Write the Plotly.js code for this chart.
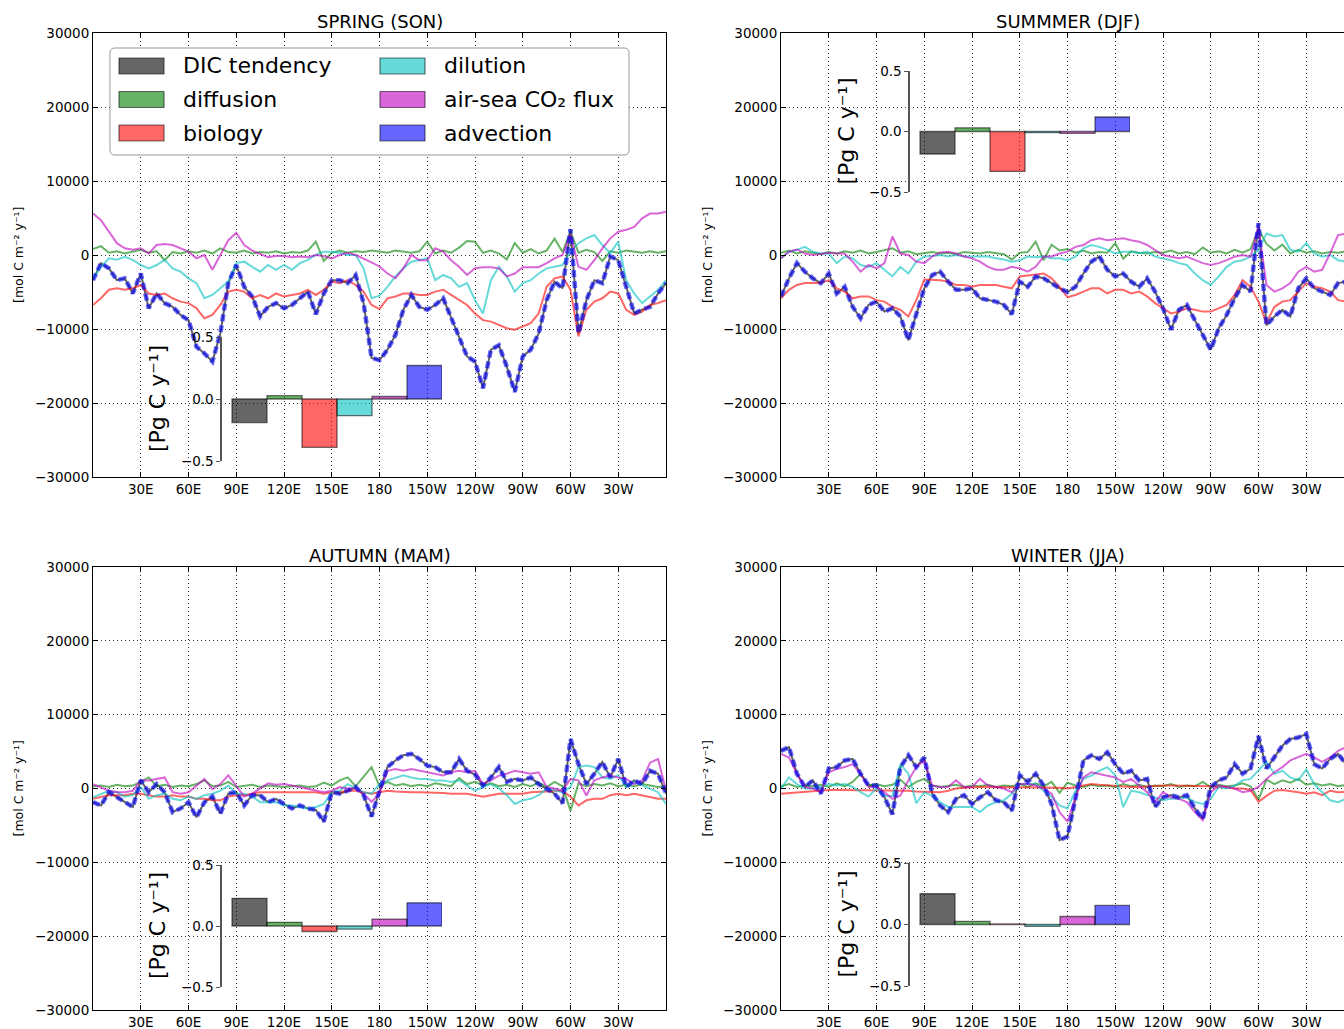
<!DOCTYPE html>
<html>
<head>
<meta charset="utf-8">
<script src="https://cdn.plot.ly/plotly-3.0.1.min.js"></script>
<style>
html,body{margin:0;padding:0;overflow:hidden;background:#fff;}
#chart{width:1360px;height:1029px;}
</style>
</head>
<body>
<div id="chart"></div>
<script>
// ---------------- DATA ----------------
const lon = Array.from({length: 73}, (_, i) => i * 5);   // 0..360 deg, every 5 deg
const lonTicks = [30, 60, 90, 120, 150, 180, 210, 240, 270, 300, 330];
const lonLabels = ['30E', '60E', '90E', '120E', '150E', '180', '150W', '120W', '90W', '60W', '30W'];
const yTicks = [-30000, -20000, -10000, 0, 10000, 20000, 30000];
const yLabels = ['\u221230000', '\u221220000', '\u221210000', '0', '10000', '20000', '30000'];
const barTicks = [-0.5, 0, 0.5];
const barLabels = ['\u22120.5', '0.0', '0.5'];
const seriesNames = ['DIC tendency', 'diffusion', 'biology', 'dilution', 'air-sea CO\u2082 flux', 'advection'];
const titles = ['SPRING (SON)', 'SUMMMER (DJF)', 'AUTUMN (MAM)', 'WINTER (JJA)'];
const mainUnit = '[mol C m\u207B\u00B2 y\u207B\u00B9]';
const insetUnit = '[Pg C y\u207B\u00B9]';

// SPRING (SON)
const dicSON = [-3400,-1100,-1800,-3400,-3150,-5200,-2500,-7200,-5200,-6500,-7000,-8100,-8800,-12400,-13300,-14400,-10600,-3800,-1350,-4300,-5600,-8300,-7000,-6500,-7200,-6750,-5850,-4950,-8000,-5200,-3400,-3400,-3800,-2700,-6500,-13900,-14200,-12800,-10800,-7400,-5400,-7000,-7400,-6750,-5850,-8550,-11000,-13700,-14400,-18000,-12800,-12200,-15100,-18500,-13700,-12800,-10600,-6100,-3600,-4500,3500,-10600,-6100,-3400,-3800,-200,-700,-4300,-7900,-7400,-7000,-5200,-3800];
const difSON = [800,1200,300,500,200,400,700,300,500,-700,400,200,500,300,600,200,900,400,300,600,200,400,300,500,200,400,300,600,1800,-800,300,600,300,500,400,600,500,300,600,400,300,500,1800,200,600,300,1000,1900,1800,300,600,200,-600,1600,300,800,200,600,2200,400,3200,300,700,400,-800,500,300,600,400,300,500,300,500];
const bioSON = [-6750,-5850,-4700,-4500,-4700,-4500,-4050,-5200,-5400,-5200,-5850,-6300,-6500,-7200,-8550,-8100,-6750,-4950,-4700,-4950,-5850,-5400,-5850,-5200,-5600,-5400,-5200,-4700,-5400,-4700,-3600,-3800,-3400,-4050,-4950,-6750,-7300,-5850,-5600,-5200,-5200,-5400,-5400,-4950,-4700,-5400,-6100,-6750,-7900,-8800,-9000,-9450,-9900,-10100,-9700,-9200,-7900,-4300,-3150,-2900,-4700,-11000,-7400,-6300,-5850,-4950,-5200,-7400,-8100,-7650,-6750,-6500,-6100];
const dilSON = [-3150,-1600,-450,-650,-250,-650,-1350,-1800,-1350,-650,-1800,-2250,-3150,-3800,-5850,-5400,-4500,-3600,-1100,-900,-1600,-2250,-1350,-2000,-1350,-2000,-1100,-650,0,450,450,300,0,0,-1800,-5850,-5500,-4300,-2900,-1800,-900,-700,-450,-3400,-2700,-3150,-4300,-3800,-6100,-7900,-3400,-1600,-2900,-4950,-3800,-3400,-2500,-1800,-1600,-1350,450,1600,2250,2700,1350,250,1800,-3400,-5200,-6500,-5600,-4700,-3400];
const asSON = [5600,4700,3150,1600,900,700,900,200,1350,1500,1350,900,450,-450,0,-2000,0,2000,3000,1350,600,150,-300,-150,-150,-300,-200,-300,0,-150,-450,0,300,0,-450,-1000,-1550,-2500,-3150,-1800,0,-700,-700,900,450,-700,-1600,-2700,-1800,-1650,-1650,-1800,-2900,-2500,-1650,-1650,-1650,-1100,-450,0,2900,-1600,-2000,-700,900,2250,3150,3400,3800,4950,5600,5600,5850];
const advSON = [-3400,-1100,-1800,-3400,-3150,-5200,-2500,-7200,-5200,-6500,-7000,-8100,-8800,-12400,-13300,-14400,-10600,-3800,-1350,-4300,-5600,-8300,-7000,-6500,-7200,-6750,-5850,-4950,-8000,-5200,-3400,-3400,-3800,-2700,-6500,-13900,-14200,-12800,-10800,-7400,-5400,-7000,-7400,-6750,-5850,-8550,-11000,-13700,-14400,-18000,-12800,-12200,-15100,-18500,-13700,-12800,-10600,-6100,-3600,-4500,3500,-10600,-6100,-3400,-3800,-200,-700,-4300,-7900,-7400,-7000,-5200,-3800];
const barsSON = [-0.19, 0.027, -0.39, -0.134, 0.02, 0.27];

// SUMMMER (DJF)
const dicDJF = [-5600,-3150,-1100,-2250,-3150,-3800,-2500,-5200,-4300,-7000,-8550,-6750,-6300,-7650,-7200,-8300,-11500,-7900,-4500,-2700,-2250,-3600,-4700,-4700,-4500,-5850,-6100,-6300,-6750,-8000,-3600,-4300,-2900,-3150,-3800,-4500,-5000,-4300,-2500,-900,-200,-2000,-2900,-2500,-3600,-4300,-3150,-4950,-7200,-10100,-7400,-6750,-8800,-10800,-12800,-9900,-8100,-5850,-4050,-4950,4300,-9500,-8300,-7400,-8300,-4500,-3150,-4500,-4950,-5400,-3800,-3600,-3600];
const difDJF = [300,600,200,500,300,100,400,200,500,300,600,200,400,700,900,300,500,100,300,400,200,300,100,400,300,200,400,300,100,-600,300,400,1800,-700,1400,600,800,300,600,200,400,300,1600,-500,500,300,200,400,300,600,200,400,100,1000,300,500,200,700,300,800,3500,1500,600,1400,200,700,300,500,200,400,300,500,400];
const bioDJF = [-5850,-4700,-4050,-3800,-3800,-3800,-3400,-4500,-4950,-5850,-5600,-5600,-6100,-6300,-7000,-7400,-8300,-6100,-3300,-3300,-3400,-3600,-4050,-4050,-4300,-4050,-4050,-4050,-4300,-4500,-2900,-2800,-2700,-2500,-3150,-4300,-5700,-5400,-4950,-4500,-4500,-5200,-4700,-4700,-5200,-4950,-5600,-6500,-7200,-7900,-7650,-7200,-7400,-7650,-7650,-7200,-6750,-5400,-3400,-4300,-6300,-9200,-7000,-6300,-6100,-4950,-3800,-4300,-4500,-4950,-6100,-6300,-6300];
const dilDJF = [-450,450,700,1100,450,200,200,-1100,-200,-450,-1350,-1600,-1100,-2000,-2900,-1600,-2500,-900,-200,-150,0,-200,0,-200,-200,-200,-200,-450,-600,-900,-700,-200,-300,-200,-450,-450,-700,-225,900,1350,1100,700,225,450,450,225,450,-225,-450,-700,-1100,-1350,-2500,-3400,-4050,-2900,-1600,-900,-700,-225,700,2900,2500,2700,700,450,1600,225,-225,0,-700,-900,-900];
const asDJF = [-450,450,750,200,0,200,300,200,200,-900,-2250,-1350,-1800,-1100,2500,200,0,-900,-1100,-200,350,450,200,-200,-450,-900,-1600,-2000,-2000,-1600,-1800,-2250,-1600,-200,-200,200,450,1100,1350,2000,2250,2000,2100,2250,2000,1800,1350,700,0,-225,-450,-225,-700,-1100,-1350,-1100,-700,-225,0,-225,3800,-4050,-4950,-4500,-3800,-2250,-1600,-2250,-2000,225,2700,2900,2900];
const advDJF = [-5600,-3150,-1100,-2250,-3150,-3800,-2500,-5200,-4300,-7000,-8550,-6750,-6300,-7650,-7200,-8300,-11500,-7900,-4500,-2700,-2250,-3600,-4700,-4700,-4500,-5850,-6100,-6300,-6750,-8000,-3600,-4300,-2900,-3150,-3800,-4500,-5000,-4300,-2500,-900,-200,-2000,-2900,-2500,-3600,-4300,-3150,-4950,-7200,-10100,-7400,-6750,-8800,-10800,-12800,-9900,-8100,-5850,-4050,-4950,4300,-9500,-8300,-7400,-8300,-4500,-3150,-4500,-4950,-5400,-3800,-3600,-3600];
const barsDJF = [-0.186, 0.03, -0.33, -0.01, -0.015, 0.12];

// AUTUMN (MAM)
const dicMAM = [-1850,-2300,-500,-1200,-1850,-2500,1100,-500,600,-500,-3200,-2700,-1850,-3900,-1850,-1100,-3400,-700,-500,-2300,-900,-900,-1850,-1400,-2100,-2700,-2300,-2700,-2900,-4500,-500,-700,-300,200,-900,-3800,-300,2900,3800,4500,4700,4000,3100,2900,2200,2200,4000,2400,1900,400,1500,2900,900,1300,1100,1500,600,0,-700,-2000,6700,3300,600,2000,3600,1500,4000,200,1100,600,2400,2000,-700];
const difMAM = [300,400,200,500,300,400,900,1500,300,500,200,400,300,600,1100,300,400,900,200,300,500,200,400,300,200,300,400,200,300,800,400,1100,1500,300,1600,2900,300,900,400,600,300,500,300,700,500,300,1400,600,900,400,700,300,500,200,600,300,800,200,900,300,-3000,700,300,600,400,700,300,500,300,600,400,200,300];
const bioMAM = [-1400,-1100,-900,-900,-900,-700,-700,-900,-1100,-1100,-900,-1100,-1100,-1400,-1400,-1600,-1600,-1100,-900,-900,-700,-500,-500,-500,-500,-500,-500,-500,-500,-700,-500,-500,-300,-300,-500,-700,-500,-300,-400,-500,-500,-500,-500,-500,-600,-700,-700,-700,-900,-1100,-900,-700,-700,-700,-700,-500,-500,-400,-300,-300,-1100,-2300,-1600,-1400,-1400,-900,-700,-900,-700,-900,-1100,-1400,-1400];
const dilMAM = [-1200,-700,-300,-500,-1100,-900,200,-1400,-900,-700,-1400,-1600,-1100,-1400,-900,-700,-300,400,-700,-700,-1100,-1850,-1850,-1850,-2300,-2300,-2500,-2700,-2500,-2100,-500,-300,600,0,-500,-700,600,1100,1500,1800,1500,1300,1300,1100,1100,900,1100,400,-300,200,600,0,-900,-2100,-1600,-1400,-900,0,-300,-500,200,2900,3100,2900,1500,1300,1800,200,900,400,0,-500,-2100];
const asMAM = [600,200,-300,-500,-500,-300,1100,1100,1300,1500,-500,-700,-500,400,1300,-100,600,1800,400,-1100,-700,0,700,500,600,400,200,0,-300,-500,-300,200,0,0,-700,-1800,-700,2400,2650,2400,2650,2400,2200,2000,1750,2200,2400,2200,2400,600,1100,1750,2000,2400,2200,2000,2200,200,0,-300,1300,1100,-950,1100,1500,1750,1500,1300,600,1100,3500,4000,-300];
const advMAM = [-1850,-2300,-500,-1200,-1850,-2500,1100,-500,600,-500,-3200,-2700,-1850,-3900,-1850,-1100,-3400,-700,-500,-2300,-900,-900,-1850,-1400,-2100,-2700,-2300,-2700,-2900,-4500,-500,-700,-300,200,-900,-3800,-300,2900,3800,4500,4700,4000,3100,2900,2200,2200,4000,2400,1900,400,1500,2900,900,1300,1100,1500,600,0,-700,-2000,6700,3300,600,2000,3600,1500,4000,200,1100,600,2400,2000,-700];
const barsMAM = [0.227, 0.03, -0.045, -0.025, 0.057, 0.19];

// WINTER (JJA)
const dicJJA = [5100,5600,2000,200,1100,-700,2700,2900,3800,4000,2000,400,400,-1200,-3500,2900,4500,2900,4200,-700,-2300,-3200,-1400,-900,-2100,-1200,-500,-1600,-1850,-3000,1800,900,2000,400,-2100,-7000,-6500,-1200,3800,4500,4000,4900,3300,2000,2400,1100,1300,-2500,-1200,-900,-1200,-900,-2700,-4100,200,1100,1500,3300,2000,2700,7100,2700,4200,5800,6700,6900,7400,3300,2700,4000,4700,3300,3000];
const difJJA = [300,600,200,400,300,500,200,700,300,900,2000,400,600,300,500,1200,200,900,1300,400,200,300,500,200,400,300,500,200,400,300,600,200,700,300,900,-600,800,400,200,500,300,400,200,600,300,500,200,400,300,600,200,400,300,900,200,500,300,400,700,300,-1500,1200,600,1100,800,1300,500,700,400,600,300,500,400];
const bioJJA = [-700,-600,-500,-400,-300,-300,-200,-200,-200,-200,-200,-200,-200,-200,-200,-300,-300,-400,-400,-500,-500,-300,0,100,200,200,200,200,200,200,200,200,200,200,200,100,0,200,400,600,500,400,400,300,200,200,300,400,400,400,400,400,400,400,300,200,200,0,0,-200,-1800,-1000,-300,-200,-300,-500,-700,-500,-900,-300,-500,-500,-400];
const dilJJA = [0,1500,600,0,0,200,600,400,600,200,-500,-1100,0,-1000,-1000,3300,2000,-2000,-500,-1000,-1850,-2500,-2500,-2500,-2500,-3200,-2300,-1850,-1600,-700,600,600,600,-300,-1100,-2300,-2700,-300,1300,1750,2400,2900,1800,-2500,-300,-500,-900,-1200,-1600,-1400,-1400,-1200,-1850,-2100,-1400,200,0,400,1100,1300,2400,3600,2000,2400,1500,1100,2600,600,-500,-1600,-1850,-1400,-1400];
const asJJA = [4700,4200,2000,200,0,-500,2200,2650,2900,3300,2000,200,200,-500,-1400,-950,1100,2900,3800,400,200,200,1100,200,200,1300,400,200,0,-500,600,600,400,0,-700,-3200,-4500,-1200,1500,2200,2000,1750,1500,850,1300,400,-500,-1850,-500,-1200,-1400,-1850,-3200,-4300,-500,400,200,0,-500,-300,200,1300,2200,2900,3800,4200,4700,4200,3600,4200,5100,5600,5600];
const advJJA = [5100,5600,2000,200,1100,-700,2700,2900,3800,4000,2000,400,400,-1200,-3500,2900,4500,2900,4200,-700,-2300,-3200,-1400,-900,-2100,-1200,-500,-1600,-1850,-3000,1800,900,2000,400,-2100,-7000,-6500,-1200,3800,4500,4000,4900,3300,2000,2400,1100,1300,-2500,-1200,-900,-1200,-900,-2700,-4100,200,1100,1500,3300,2000,2700,7100,2700,4200,5800,6700,6900,7400,3300,2700,4000,4700,3300,3000];
const barsJJA = [0.25, 0.025, 0.005, -0.015, 0.065, 0.155];

// ---------------- STYLE / LAYOUT ----------------
const W = 1360, H = 1029;
const fx = v => v / W;
const fy = v => 1 - v / H;
const FONT = 'DejaVu Sans, Verdana, sans-serif';

const lineColors = ['rgba(0,0,0,0.62)', 'rgba(0,128,0,0.6)', 'rgba(255,0,0,0.6)', 'rgba(0,191,191,0.6)', 'rgba(191,0,191,0.6)', 'rgba(0,0,255,0.6)'];
const barColors = ['rgba(0,0,0,0.6)', 'rgba(0,128,0,0.6)', 'rgba(255,0,0,0.6)', 'rgba(0,191,191,0.6)', 'rgba(191,0,191,0.6)', 'rgba(0,0,255,0.6)'];

const seasonData = [
  {series: [dicSON, difSON, bioSON, dilSON, asSON, advSON], bars: barsSON},
  {series: [dicDJF, difDJF, bioDJF, dilDJF, asDJF, advDJF], bars: barsDJF},
  {series: [dicMAM, difMAM, bioMAM, dilMAM, asMAM, advMAM], bars: barsMAM},
  {series: [dicJJA, difJJA, bioJJA, dilJJA, asJJA, advJJA], bars: barsJJA}
];
seasonData.forEach((s, k) => s.series.forEach((a, j) => {
  if (a.length !== lon.length) throw new Error('length mismatch season ' + k + ' series ' + j + ': ' + a.length);
}));

const panels = [
  {x0: 93, x1: 666, y0: 33, y1: 477},
  {x0: 781, x1: 1354, y0: 33, y1: 477},
  {x0: 93, x1: 666, y0: 567, y1: 1010},
  {x0: 781, x1: 1354, y0: 567, y1: 1010}
];
const insets = [
  {x0: 222, x1: 442, y0: 337, y1: 461},
  {x0: 910, x1: 1130, y0: 71, y1: 192},
  {x0: 222, x1: 442, y0: 865, y1: 987},
  {x0: 910, x1: 1130, y0: 863, y1: 986}
];
const mainYLabelX = [18, 707, 18, 707];
const insetLabelX = [157, 846, 157, 846];

const traces = [];
const layout = {
  width: W, height: H,
  margin: {l: 0, r: 0, t: 0, b: 0},
  paper_bgcolor: '#ffffff',
  plot_bgcolor: 'rgba(0,0,0,0)',
  showlegend: false,
  font: {family: FONT, color: '#000', size: 13.5},
  shapes: [],
  annotations: []
};

panels.forEach((p, k) => {
  const xa = 'x' + (k + 1), ya = 'y' + (k + 1);
  const xi = 'x' + (k + 5), yi = 'y' + (k + 5);
  const axKey = n => (n === 1 ? '' : n);
  const gridStyle = {showgrid: true, gridcolor: 'rgba(0,0,0,0.9)', gridwidth: 0.9, griddash: '1px,3px'};
  layout['xaxis' + axKey(k + 1)] = Object.assign({
    domain: [fx(p.x0), fx(p.x1)], anchor: ya, range: [0, 360],
    tickmode: 'array', tickvals: lonTicks, ticktext: lonLabels,
    ticks: 'inside', ticklen: 5, tickcolor: '#000', tickwidth: 1,
    showline: true, linecolor: '#000', linewidth: 1, mirror: 'ticks',
    zeroline: false, tickfont: {family: FONT, size: 13.5, color: '#000'}, fixedrange: true
  }, gridStyle);
  layout['yaxis' + axKey(k + 1)] = Object.assign({
    domain: [fy(p.y1), fy(p.y0)], anchor: xa, range: [-30000, 30000],
    tickmode: 'array', tickvals: yTicks, ticktext: yLabels,
    ticks: 'inside', ticklen: 5, tickcolor: '#000', tickwidth: 1,
    showline: true, linecolor: '#000', linewidth: 1, mirror: 'ticks',
    zeroline: false, tickfont: {family: FONT, size: 13.5, color: '#000'}, fixedrange: true
  }, gridStyle);
  const ins = insets[k];
  const spinePad = 10 / 35;
  layout['xaxis' + (k + 5)] = {
    domain: [fx(ins.x0), fx(ins.x1)], anchor: yi, range: [-0.5 - spinePad, 5.5],
    visible: false, fixedrange: true
  };
  layout['yaxis' + (k + 5)] = {
    domain: [fy(ins.y1), fy(ins.y0)], anchor: xi, range: [-0.5, 0.5],
    tickmode: 'array', tickvals: barTicks, ticktext: barLabels,
    ticks: 'outside', ticklen: 4, tickcolor: '#555', tickwidth: 1,
    showline: true, linecolor: '#555', linewidth: 1.6,
    showgrid: false, zeroline: false,
    tickfont: {family: FONT, size: 13.5, color: '#000'}, fixedrange: true
  };

  const s = seasonData[k];
  s.series.forEach((vals, j) => {
    const tr = {
      type: 'scatter', mode: 'lines', x: lon, y: vals, xaxis: xa, yaxis: ya,
      name: seriesNames[j], hoverinfo: 'skip',
      line: {color: lineColors[j], width: 2}
    };
    if (j === 5) tr.line = {color: lineColors[j], width: 4.5, dash: '7px,4px'};
    traces.push(tr);
  });
  traces.push({
    type: 'bar', x: [0, 1, 2, 3, 4, 5], y: s.bars, width: 1, xaxis: xi, yaxis: yi,
    hoverinfo: 'skip',
    marker: {color: barColors, line: {color: 'rgba(0,0,0,0.55)', width: 1.3}}
  });

  // subplot title
  layout.annotations.push({
    text: titles[k], xref: 'paper', yref: 'paper',
    x: fx((p.x0 + p.x1) / 2), y: fy(p.y0 - 12), xanchor: 'center', yanchor: 'middle',
    showarrow: false, font: {family: FONT, size: 18, color: '#000'}
  });
  // main y-axis label
  layout.annotations.push({
    text: mainUnit, xref: 'paper', yref: 'paper',
    x: fx(mainYLabelX[k]), y: fy((p.y0 + p.y1) / 2), xanchor: 'center', yanchor: 'middle',
    textangle: -90, showarrow: false, font: {family: FONT, size: 12.5, color: '#000'}
  });
  // inset y-axis label
  layout.annotations.push({
    text: insetUnit, xref: 'paper', yref: 'paper',
    x: fx(insetLabelX[k]), y: fy((ins.y0 + ins.y1) / 2), xanchor: 'center', yanchor: 'middle',
    textangle: -90, showarrow: false, font: {family: FONT, size: 22, color: '#000'}
  });
});

// ---------------- LEGEND (drawn in top-left panel) ----------------
function roundRectPath(x0, y0, x1, y1, r) {
  const X = v => fx(v).toFixed(6), Y = v => fy(v).toFixed(6);
  return 'M' + X(x0 + r) + ',' + Y(y0) +
    ' L' + X(x1 - r) + ',' + Y(y0) + ' Q' + X(x1) + ',' + Y(y0) + ' ' + X(x1) + ',' + Y(y0 + r) +
    ' L' + X(x1) + ',' + Y(y1 - r) + ' Q' + X(x1) + ',' + Y(y1) + ' ' + X(x1 - r) + ',' + Y(y1) +
    ' L' + X(x0 + r) + ',' + Y(y1) + ' Q' + X(x0) + ',' + Y(y1) + ' ' + X(x0) + ',' + Y(y1 - r) +
    ' L' + X(x0) + ',' + Y(y0 + r) + ' Q' + X(x0) + ',' + Y(y0) + ' ' + X(x0 + r) + ',' + Y(y0) + ' Z';
}
layout.shapes.push({
  type: 'path', xref: 'paper', yref: 'paper', layer: 'above',
  path: roundRectPath(110, 48, 629, 155, 5),
  fillcolor: '#ffffff', line: {color: '#999999', width: 1}
});
const legCols = [{sx: 119, tx: 181, items: [0, 1, 2]}, {sx: 380, tx: 442, items: [3, 4, 5]}];
const legRows = [66, 99.5, 133];
legCols.forEach(c => c.items.forEach((j, r) => {
  const cy = legRows[r];
  layout.shapes.push({
    type: 'rect', xref: 'paper', yref: 'paper', layer: 'above',
    x0: fx(c.sx), x1: fx(c.sx + 45), y0: fy(cy + 8), y1: fy(cy - 8),
    fillcolor: barColors[j], line: {color: 'rgba(0,0,0,0.55)', width: 1.2}
  });
  layout.annotations.push({
    text: seriesNames[j], xref: 'paper', yref: 'paper',
    x: fx(c.tx), y: fy(cy), xanchor: 'left', yanchor: 'middle',
    showarrow: false, font: {family: FONT, size: 22, color: '#000'}
  });
}));

Plotly.newPlot('chart', traces, layout, {staticPlot: true, displayModeBar: false});
</script>
</body>
</html>
